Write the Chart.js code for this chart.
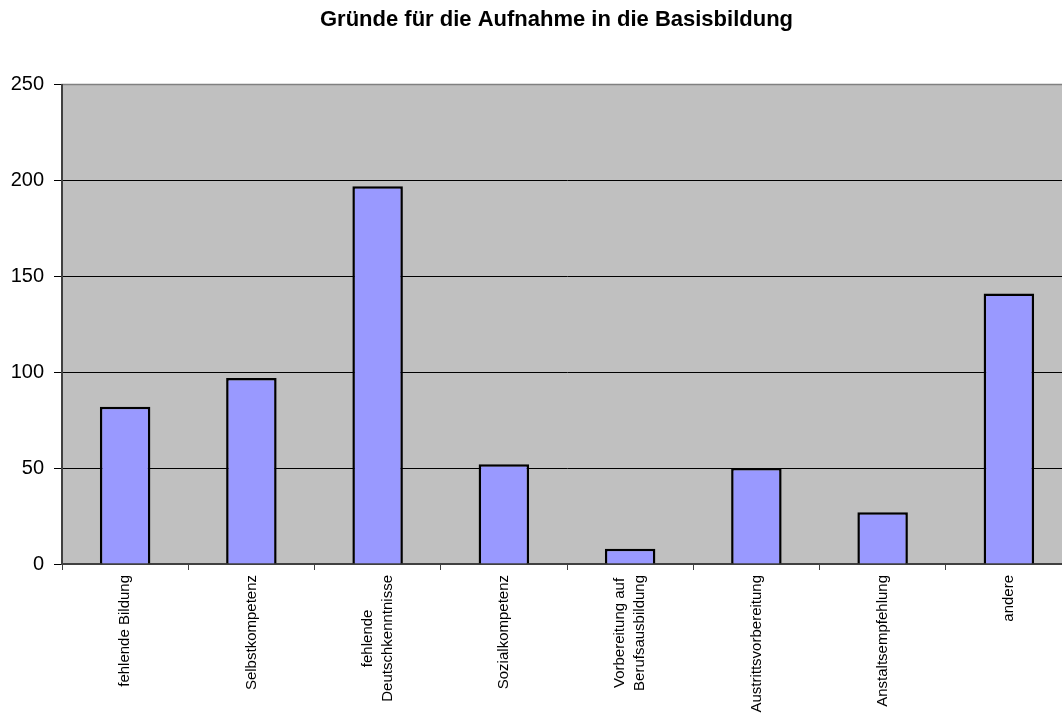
<!DOCTYPE html>
<html>
<head>
<meta charset="utf-8">
<script src="https://cdn.jsdelivr.net/npm/chart.js@4/dist/chart.umd.min.js"></script>
<style>
  html, body { margin: 0; padding: 0; background: #fff; overflow: hidden; }
  #wrap { width: 1113px; height: 717px; }
</style>
</head>
<body>
<div id="wrap"><canvas id="myChart" width="1113" height="717"></canvas></div>
<script>
const titleText = 'Gründe für die Aufnahme in die Basisbildung';
const categories = [
  ['fehlende Bildung'],
  ['Selbstkompetenz'],
  ['fehlende', 'Deutschkenntnisse'],
  ['Sozialkompetenz'],
  ['Vorbereitung auf', 'Berufsausbildung'],
  ['Austrittsvorbereitung'],
  ['Anstaltsempfehlung'],
  ['andere']
];
const counts = [82, 97, 197, 52, 8, 50, 27, 141];
const yTicks = [0, 50, 100, 150, 200, 250];

const FONT = '"Liberation Sans", Arial, Helvetica, sans-serif';

// grey plot area with grey frame
const plotBackground = {
  id: 'plotBackground',
  beforeDraw(chart) {
    const { ctx, chartArea: a } = chart;
    ctx.save();
    ctx.fillStyle = '#c0c0c0';
    ctx.fillRect(a.left, a.top, a.right - a.left, a.bottom - a.top);
    ctx.strokeStyle = '#808080';
    ctx.lineWidth = 1.5;
    ctx.strokeRect(a.left, a.top, a.right - a.left, a.bottom - a.top);
    ctx.restore();
  }
};

// title centred on the whole (cropped) chart
const chartTitle = {
  id: 'chartTitle',
  afterDraw(chart) {
    const { ctx } = chart;
    ctx.save();
    ctx.font = 'bold 22px ' + FONT;
    ctx.fillStyle = '#000';
    ctx.textAlign = 'center';
    ctx.textBaseline = 'middle';
    ctx.fillText(titleText, chart.width / 2, 20);
    ctx.restore();
  }
};

// vertical category labels, lines centred on each other
const xLabels = {
  id: 'xLabels',
  afterDraw(chart) {
    const { ctx } = chart;
    const xs = chart.scales.x;
    const lineH = 20;
    ctx.save();
    ctx.font = '15px ' + FONT;
    ctx.fillStyle = '#000';
    ctx.textAlign = 'center';
    ctx.textBaseline = 'middle';
    categories.forEach((lines, i) => {
      const x = xs.getPixelForTick(i);
      const w = Math.max(...lines.map(l => ctx.measureText(l).width));
      const top = chart.chartArea.bottom + 11;
      ctx.save();
      ctx.translate(x, top + w / 2);
      ctx.rotate(-Math.PI / 2);
      lines.forEach((l, j) => {
        ctx.fillText(l, 0, (j - (lines.length - 1) / 2) * lineH);
      });
      ctx.restore();
    });
    ctx.restore();
  }
};

const ctx = document.getElementById('myChart').getContext('2d');
new Chart(ctx, {
  type: 'bar',
  data: {
    labels: categories.map(c => c.join(' ')),
    datasets: [{
      data: counts,
      backgroundColor: '#9999ff',
      borderColor: '#000',
      borderWidth: 2.5,
      barPercentage: 0.4,
      categoryPercentage: 1
    }]
  },
  options: {
    responsive: false,
    animation: false,
    devicePixelRatio: 1,
    layout: { padding: { left: 0, right: 41, top: 84.5, bottom: 0 } },
    plugins: {
      legend: { display: false },
      tooltip: { enabled: false },
      title: { display: false }
    },
    scales: {
      x: {
        grid: { offset: true, drawOnChartArea: false, tickLength: 6, color: '#404040' },
        border: { color: '#404040', width: 2 },
        ticks: { display: false },
        afterFit: s => { s.height = 153; }
      },
      y: {
        min: 0,
        max: 250,
        afterBuildTicks: s => { s.ticks = yTicks.map(v => ({ value: v })); },
        afterFit: s => { s.width = 62; },
        grid: {
          color: c => (c.tick && c.tick.value === 250) ? '#808080' : '#000',
          lineWidth: 1,
          tickLength: 8,
          tickColor: '#000'
        },
        border: { color: '#404040', width: 2 },
        ticks: { font: { family: FONT, size: 20 }, color: '#000', padding: 10 }
      }
    }
  },
  plugins: [plotBackground, chartTitle, xLabels]
});
</script>
</body>
</html>
